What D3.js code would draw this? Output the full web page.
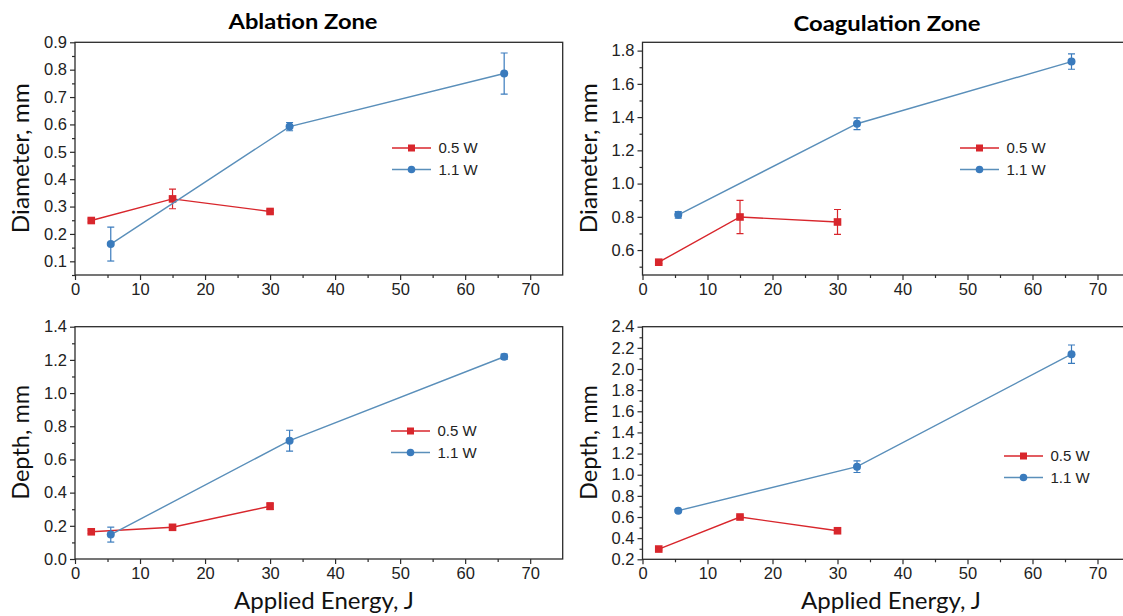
<!DOCTYPE html>
<html>
<head>
<meta charset="utf-8">
<script src="https://cdn.jsdelivr.net/npm/d3@7"></script>
<style>
  html, body { margin: 0; padding: 0; background: #fff; }
  svg { display: block; }
</style>
</head>
<body>
<svg id="chart" width="1123" height="616"></svg>
<script>
// ---------------- DATA ----------------
const energy05 = [2.5, 15, 30];   // 0.5 W applied energy, J
const energy11 = [5.5, 33, 66];   // 1.1 W applied energy, J
const seriesNames = ["0.5 W", "1.1 W"];

const ablDiam05 = [0.249, 0.328, 0.282];
const ablDiam05Err = [0.006, 0.036, 0.005];
const ablDiam11 = [0.163, 0.592, 0.786];
const ablDiam11Err = [0.062, 0.015, 0.075];

const coagDiam05 = [0.527, 0.799, 0.769];
const coagDiam05Err = [0.008, 0.100, 0.075];
const coagDiam11 = [0.812, 1.360, 1.734];
const coagDiam11Err = [0.020, 0.035, 0.046];

const ablDepth05 = [0.164, 0.191, 0.318];
const ablDepth05Err = [0.010, 0.008, 0.020];
const ablDepth11 = [0.147, 0.713, 1.219];
const ablDepth11Err = [0.045, 0.063, 0.016];

const coagDepth05 = [0.297, 0.600, 0.470];
const coagDepth05Err = [0.010, 0.010, 0.025];
const coagDepth11 = [0.660, 1.076, 2.140];
const coagDepth11Err = [0.010, 0.055, 0.087];

const xTicks = [0, 10, 20, 30, 40, 50, 60, 70];
const yTicksAblDiam = [0.1, 0.2, 0.3, 0.4, 0.5, 0.6, 0.7, 0.8, 0.9];
const yTicksCoagDiam = [0.6, 0.8, 1.0, 1.2, 1.4, 1.6, 1.8];
const yTicksAblDepth = [0.0, 0.2, 0.4, 0.6, 0.8, 1.0, 1.2, 1.4];
const yTicksCoagDepth = [0.2, 0.4, 0.6, 0.8, 1.0, 1.2, 1.4, 1.6, 1.8, 2.0, 2.2, 2.4];

// ---------------- STYLE / LAYOUT ----------------
const RED = "#d8262c";
const BLUE = "#3a7bbd";
const BLUE_LINE = "#5a8fba";
const AXIS = "#2b2b2b";
const TICKFONT = "'Liberation Sans', Arial, sans-serif";
const LABELFONT = "Lato, 'Open Sans', sans-serif";

const panels = [
  { x0: 75, x1: 562.7, y0: 42.3, y1: 275, ydom: [0.05, 0.9], yt: yTicksAblDiam, fmt: d3.format(".1f"),
    s05: ablDiam05, e05: ablDiam05Err, s11: ablDiam11, e11: ablDiam11Err,
    ylabel: "Diameter, mm", ylx: 21, yllen: 150, leg: { x: 392, y: 148 }, xlabel: false },
  { x0: 642.5, x1: 1130, y0: 42.3, y1: 275, ydom: [0.45, 1.85], yt: yTicksCoagDiam, fmt: d3.format(".1f"),
    s05: coagDiam05, e05: coagDiam05Err, s11: coagDiam11, e11: coagDiam11Err,
    ylabel: "Diameter, mm", ylx: 589, yllen: 150, leg: { x: 960, y: 148 }, xlabel: false },
  { x0: 75, x1: 562.7, y0: 326.7, y1: 559, ydom: [0, 1.4], yt: yTicksAblDepth, fmt: d3.format(".1f"),
    s05: ablDepth05, e05: ablDepth05Err, s11: ablDepth11, e11: ablDepth11Err,
    ylabel: "Depth, mm", ylx: 21, yllen: 115, leg: { x: 391, y: 431 }, xlabel: true, xlcx: 324 },
  { x0: 642.5, x1: 1130, y0: 326.7, y1: 559.3, ydom: [0.2, 2.4], yt: yTicksCoagDepth, fmt: d3.format(".1f"),
    s05: coagDepth05, e05: coagDepth05Err, s11: coagDepth11, e11: coagDepth11Err,
    ylabel: "Depth, mm", ylx: 589, yllen: 115, leg: { x: 1004, y: 456 }, xlabel: true, xlcx: 891 }
];

const svg = d3.select("#chart");

// Titles
svg.append("text").attr("x", 303).attr("y", 28.5).attr("text-anchor", "middle")
  .attr("font-family", LABELFONT).attr("font-weight", "bold").attr("font-size", 21)
  .attr("textLength", 149).attr("lengthAdjust", "spacingAndGlyphs")
  .attr("fill", "#000").text("Ablation Zone");
svg.append("text").attr("x", 887).attr("y", 31).attr("text-anchor", "middle")
  .attr("font-family", LABELFONT).attr("font-weight", "bold").attr("font-size", 21)
  .attr("textLength", 187).attr("lengthAdjust", "spacingAndGlyphs")
  .attr("fill", "#000").text("Coagulation Zone");

panels.forEach(p => {
  const x = d3.scaleLinear().domain([0, 75]).range([p.x0, p.x1]);
  const y = d3.scaleLinear().domain(p.ydom).range([p.y1, p.y0]);
  const g = svg.append("g");

  const clipId = "clip" + Math.round(p.x0) + "_" + Math.round(p.y0);
  g.append("clipPath").attr("id", clipId).append("rect")
    .attr("x", p.x0).attr("y", p.y0).attr("width", p.x1 - p.x0).attr("height", p.y1 - p.y0);

  // frame
  g.append("rect").attr("x", p.x0).attr("y", p.y0).attr("width", p.x1 - p.x0).attr("height", p.y1 - p.y0)
    .attr("fill", "none").attr("stroke", AXIS).attr("stroke-width", 1.3);

  // X axis
  const xMinor = d3.range(5, 75, 10);
  const xAxis = g.append("g").attr("transform", `translate(0,${p.y1})`)
    .call(d3.axisBottom(x).tickValues(xTicks).tickSize(5).tickPadding(3).tickFormat(d3.format("d")));
  xAxis.select(".domain").remove();
  xAxis.selectAll("line").attr("stroke", AXIS).attr("stroke-width", 1.2);
  xAxis.selectAll("text").attr("font-family", TICKFONT).attr("font-size", 16.5).attr("fill", "#222");
  const xAxisMinor = g.append("g").attr("transform", `translate(0,${p.y1})`)
    .call(d3.axisBottom(x).tickValues(xMinor).tickSize(3).tickFormat(""));
  xAxisMinor.select(".domain").remove();
  xAxisMinor.selectAll("line").attr("stroke", AXIS).attr("stroke-width", 1.2);

  // Y axis
  const yAxis = g.append("g").attr("transform", `translate(${p.x0},0)`)
    .call(d3.axisLeft(y).tickValues(p.yt).tickSize(5).tickPadding(3).tickFormat(p.fmt));
  yAxis.select(".domain").remove();
  yAxis.selectAll("line").attr("stroke", AXIS).attr("stroke-width", 1.2);
  yAxis.selectAll("text").attr("font-family", TICKFONT).attr("font-size", 16.5).attr("fill", "#222");
  const majStep = p.yt[1] - p.yt[0];
  const yMinor = [];
  for (let v = p.yt[0] - majStep / 2; v <= p.ydom[1] + 1e-9; v += majStep / 2) {
    if (v >= p.ydom[0] - 1e-9) {
      const isMajor = p.yt.some(t => Math.abs(t - v) < 1e-6);
      if (!isMajor) yMinor.push(+v.toFixed(4));
    }
  }
  const yAxisMinor = g.append("g").attr("transform", `translate(${p.x0},0)`)
    .call(d3.axisLeft(y).tickValues(yMinor).tickSize(3).tickFormat(""));
  yAxisMinor.select(".domain").remove();
  yAxisMinor.selectAll("line").attr("stroke", AXIS).attr("stroke-width", 1.2);

  // Y label
  const ycen = (p.y0 + p.y1) / 2;
  g.append("text").attr("transform", `translate(${p.ylx + 8},${ycen - 0.5}) rotate(-90)`)
    .attr("text-anchor", "middle").attr("font-family", LABELFONT).attr("font-size", 23)
    .attr("textLength", p.yllen).attr("lengthAdjust", "spacingAndGlyphs")
    .attr("fill", "#111").text(p.ylabel);

  // X label
  if (p.xlabel) {
    g.append("text").attr("x", p.xlcx).attr("y", 608.5).attr("text-anchor", "middle")
      .attr("font-family", LABELFONT).attr("font-size", 23)
      .attr("textLength", 180).attr("lengthAdjust", "spacingAndGlyphs")
      .attr("fill", "#111").text("Applied Energy, J");
  }

  const data = g.append("g").attr("clip-path", `url(#${clipId})`);
  const line = d3.line().x(d => x(d[0])).y(d => y(d[1]));

  const drawSeries = (xs, ys, es, lineColor, markColor, shape) => {
    const pts = xs.map((v, i) => [v, ys[i], es[i]]);
    data.append("path").datum(pts).attr("d", line).attr("fill", "none")
      .attr("stroke", lineColor).attr("stroke-width", 1.4);
    pts.forEach(d => {
      const yt = y(d[1] + d[2]), yb = y(d[1] - d[2]), cx = x(d[0]);
      data.append("line").attr("x1", cx).attr("x2", cx).attr("y1", yt).attr("y2", yb)
        .attr("stroke", markColor).attr("stroke-width", 1.2);
      [yt, yb].forEach(yy => data.append("line").attr("x1", cx - 3.5).attr("x2", cx + 3.5)
        .attr("y1", yy).attr("y2", yy).attr("stroke", markColor).attr("stroke-width", 1.2));
    });
    pts.forEach(d => {
      if (shape === "square") {
        data.append("rect").attr("x", x(d[0]) - 3.8).attr("y", y(d[1]) - 3.8)
          .attr("width", 7.6).attr("height", 7.6).attr("fill", markColor);
      } else {
        data.append("circle").attr("cx", x(d[0])).attr("cy", y(d[1])).attr("r", 4)
          .attr("fill", markColor);
      }
    });
  };
  drawSeries(energy05, p.s05, p.e05, RED, RED, "square");
  drawSeries(energy11, p.s11, p.e11, BLUE_LINE, BLUE, "circle");

  // legend
  const lg = g.append("g").attr("transform", `translate(${p.leg.x},${p.leg.y})`);
  seriesNames.forEach((name, i) => {
    const yy = i * 21.5;
    const col = i === 0 ? RED : BLUE;
    lg.append("line").attr("x1", 0).attr("x2", 39).attr("y1", yy).attr("y2", yy)
      .attr("stroke", i === 0 ? RED : BLUE_LINE).attr("stroke-width", 1.4);
    if (i === 0) {
      lg.append("rect").attr("x", 19.5 - 3.5).attr("y", yy - 3.5).attr("width", 7).attr("height", 7).attr("fill", col);
    } else {
      lg.append("circle").attr("cx", 19.5).attr("cy", yy).attr("r", 3.8).attr("fill", col);
    }
    lg.append("text").attr("x", 46.5).attr("y", yy + 5).attr("font-family", TICKFONT)
      .attr("font-size", 15).attr("fill", "#222").text(name);
  });
});
</script>
</body>
</html>
